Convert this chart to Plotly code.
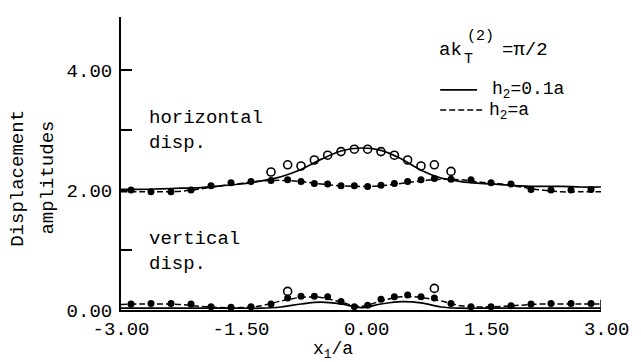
import plotly.graph_objects as go

# ---------------- data ----------------
x_line = [-3.0, -2.75, -2.5, -2.25, -2.0, -1.75, -1.5, -1.25, -1.0, -0.75, -0.5, -0.25,
          0.0, 0.25, 0.5, 0.75, 1.0, 1.25, 1.5, 1.75, 2.0, 2.25, 2.5, 2.75, 3.0]

# horizontal displacement
horiz_h01 = [2.01, 2.01, 2.02, 2.03, 2.04, 2.07, 2.10, 2.15, 2.22, 2.34, 2.51, 2.65,
             2.70, 2.66, 2.52, 2.33, 2.20, 2.14, 2.11, 2.09, 2.07, 2.06, 2.06, 2.05, 2.05]
horiz_ha = [1.97, 1.97, 1.97, 1.98, 2.02, 2.07, 2.11, 2.15, 2.16, 2.14, 2.10, 2.07,
            2.06, 2.07, 2.11, 2.15, 2.18, 2.17, 2.13, 2.10, 2.05, 2.00, 1.97, 1.97, 1.97]

x_pts = [-2.875, -2.625, -2.375, -2.125, -1.875, -1.625, -1.375, -1.125,
         -0.917, -0.75, -0.583, -0.417, -0.25, -0.083,
         0.083, 0.25, 0.417, 0.583, 0.75, 0.917,
         1.125, 1.375, 1.625, 1.875, 2.125, 2.375, 2.625, 2.875]
horiz_dots = [2.00, 1.97, 1.97, 2.00, 2.07, 2.12, 2.14, 2.16,
              2.17, 2.14, 2.11, 2.10, 2.07, 2.07,
              2.06, 2.08, 2.11, 2.14, 2.17, 2.19,
              2.18, 2.17, 2.12, 2.10, 2.01, 2.00, 2.00, 2.01]

x_open = [-1.125, -0.917, -0.75, -0.583, -0.417, -0.25, -0.083,
          0.083, 0.25, 0.417, 0.583, 0.75, 0.917, 1.125]
horiz_open = [2.30, 2.42, 2.40, 2.50, 2.58, 2.64, 2.68,
              2.68, 2.64, 2.58, 2.50, 2.40, 2.42, 2.31]

# vertical displacement
vert_h01 = [0.03, 0.03, 0.03, 0.03, 0.03, 0.03, 0.03, 0.03, 0.05, 0.10, 0.13, 0.10,
            0.04, 0.10, 0.14, 0.12, 0.05, 0.03, 0.03, 0.03, 0.03, 0.03, 0.03, 0.03, 0.03]
vert_ha = [0.09, 0.10, 0.10, 0.09, 0.06, 0.04, 0.04, 0.07, 0.15, 0.21, 0.21, 0.13,
           0.06, 0.15, 0.22, 0.21, 0.15, 0.07, 0.05, 0.06, 0.08, 0.10, 0.10, 0.10, 0.10]
vert_dots = [0.10, 0.11, 0.11, 0.10, 0.055, 0.045, 0.055, 0.10,
             0.20, 0.23, 0.23, 0.22, 0.14, 0.055,
             0.08, 0.18, 0.22, 0.25, 0.22, 0.20,
             0.11, 0.055, 0.055, 0.07, 0.10, 0.11, 0.11, 0.11]
x_open_v = [-0.917, 0.917]
vert_open = [0.31, 0.36]

x_tickvals = [-3.0, -1.5, 0.0, 1.5, 3.0]
x_ticktext = ["-3.00", "-1.50", "\u00a00.00", "\u00a01.50", "\u00a03.00"]
y_tickvals = [0, 2, 4]
y_ticktext = ["0.00", "2.00", "4.00"]
y_minor_tickvals = [1, 3, 4.88]

FONT = "Liberation Mono"
FS = 19

fig = go.Figure()

solid = dict(color="black", width=1.7)
dashed = dict(color="black", width=1.5, dash="6px,3px")

for yv in (horiz_h01, vert_h01):
    fig.add_trace(go.Scatter(x=x_line, y=yv, mode="lines", line=dict(shape="spline", **solid),
                             showlegend=False, hoverinfo="skip"))
for yv in (horiz_ha, vert_ha):
    fig.add_trace(go.Scatter(x=x_line, y=yv, mode="lines", line=dict(shape="spline", **dashed),
                             showlegend=False, hoverinfo="skip"))
for yv in (horiz_dots, vert_dots):
    fig.add_trace(go.Scatter(x=x_pts, y=yv, mode="markers",
                             marker=dict(symbol="circle", size=7, color="black"),
                             showlegend=False))
fig.add_trace(go.Scatter(x=x_open, y=horiz_open, mode="markers",
                         marker=dict(symbol="circle-open", size=8, color="black", line=dict(width=1.6)),
                         showlegend=False))
fig.add_trace(go.Scatter(x=x_open_v, y=vert_open, mode="markers",
                         marker=dict(symbol="circle-open", size=8, color="black", line=dict(width=1.6)),
                         showlegend=False))

# page has an 8px body margin, so the figure is sized/positioned to compensate
fig.update_layout(
    width=633, height=354,
    margin=dict(l=113, r=40, t=9, b=52),
    paper_bgcolor="white", plot_bgcolor="white",
    font=dict(family=FONT, size=FS, color="black"),
    showlegend=False,
)
fig.update_xaxes(range=[-3.0, 3.0], showgrid=False, zeroline=False,
                 showline=True, linecolor="black", linewidth=1.5,
                 ticks="", tickvals=x_tickvals, ticktext=x_ticktext,
                 ticklabelstandoff=0,
                 tickfont=dict(family=FONT, size=FS, color="black"))
fig.update_yaxes(range=[0, 4.883], showgrid=False, zeroline=False,
                 showline=True, linecolor="black", linewidth=2,
                 ticks="inside", ticklen=11, tickwidth=1.5, tickcolor="black",
                 tickvals=y_tickvals, ticktext=y_ticktext,
                 minor=dict(tickmode="array", tickvals=y_minor_tickvals, ticks="inside",
                            ticklen=11, tickwidth=1.5, tickcolor="black", showgrid=False),
                 ticklabelstandoff=3,
                 tickfont=dict(family=FONT, size=FS, color="black"))

def txt(x, y, s, size=FS, xanchor="left", xref="x", yref="y", angle=0, align="left"):
    fig.add_annotation(x=x, y=y, xref=xref, yref=yref, text=s, showarrow=False,
                       xanchor=xanchor, yanchor="middle", align=align, textangle=angle,
                       font=dict(family=FONT, size=size, color="black"))

# curve labels
txt(-2.68, 2.99, "horizontal<br>disp.")
txt(-2.68, 0.97, "vertical<br>disp.")

# parameter label ak_T^(2) = pi/2
txt(0.95, 4.333, "ak")
txt(1.30, 4.56, "(2)", size=15)
txt(1.262, 4.18, "T", size=15)
txt(1.737, 4.333, "=\u03c0/2")

# legend
fig.add_shape(type="line", xref="x", yref="y", x0=0.99, x1=1.45, y0=3.667, y1=3.667,
              line=dict(color="black", width=1.7))
txt(1.61, 3.66, "h<sub>2</sub>=0.1a", size=18)
fig.add_shape(type="line", xref="x", yref="y", x0=0.99, x1=1.55, y0=3.333, y1=3.333,
              line=dict(color="black", width=1.5, dash="6px,3px"))
txt(1.58, 3.30, "h<sub>2</sub>=a", size=18)

# end tick of the baseline at x = 3
fig.add_shape(type="line", xref="x", yref="y", x0=3.0, x1=3.0, y0=0.0, y1=0.17,
              line=dict(color="black", width=1.5))

# axis titles
txt(0.4417, -0.137, "x<sub>1</sub>/a", size=18, xanchor="center", xref="paper", yref="paper")
txt(-0.215, 2.2, "Displacement", xref="paper", xanchor="center", angle=-90)
txt(-0.153, 2.2, "amplitudes", xref="paper", xanchor="center", angle=-90)

fig.write_html("out.html")
